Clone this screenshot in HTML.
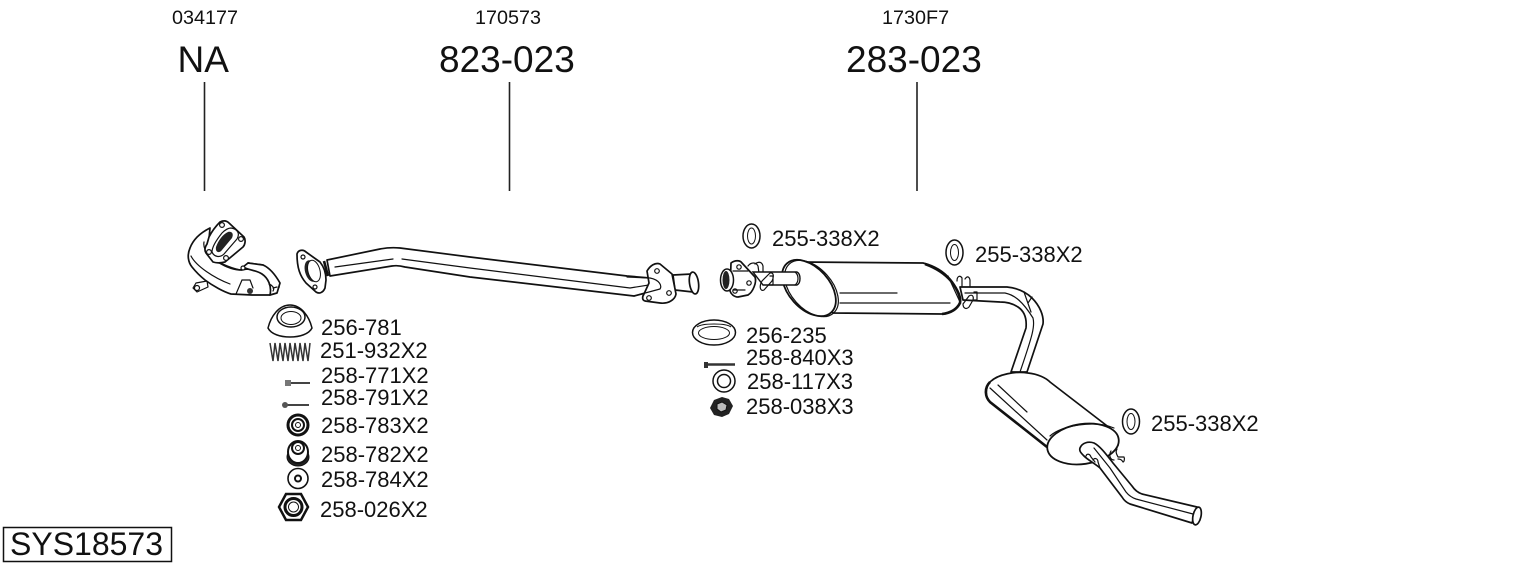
<!DOCTYPE html>
<html><head><meta charset="utf-8"><style>
html,body{margin:0;padding:0;background:#fff;width:1530px;height:566px;overflow:hidden}
svg{display:block}
text{font-family:"Liberation Sans",sans-serif;fill:#111}
.s{font-size:19.800px}.b{font-size:37px}.m{font-size:22px}
.l{fill:none;stroke:#111;stroke-width:1.200;stroke-linejoin:round;stroke-linecap:round}
.h{fill:#fff;stroke:#111;stroke-width:1.700;stroke-linejoin:round}
.t{fill:#fff;stroke:#111;stroke-width:1.200;stroke-linejoin:round}
.k{fill:none;stroke:#111;stroke-width:2.600}
</style></head><body>
<svg width="1530" height="566" viewBox="0 0 1530 566" xmlns="http://www.w3.org/2000/svg">
<text class="s" x="172" y="24">034177</text>
<text class="s" x="475" y="24">170573</text>
<text class="s" x="882" y="24">1730F7</text>
<text class="b" x="177.500" y="72">NA</text>
<text class="b" x="439" y="72">823-023</text>
<text class="b" x="846" y="72">283-023</text>
<path d="M204.500 82V191M509.500 82V191M917 82V191" stroke="#222" stroke-width="1.600" fill="none"/>

<!-- manifold -->
<g>
<path class="t" d="M207 281L196 283L193 288L197 292L208 287Z"/>
<circle cx="197" cy="288" r="2.500" class="t"/>
<path class="h" d="M210 228C200 233 193 240 190 248C187 255 188 262 192 267C196 272 200 276 205 280C213 286 224 292 231 294L252 295L270 295L279 287L270 270L263 265L248 263L242 270C234 270 226 267 218 262L208 250Z"/>
<path class="l" d="M191 256C196 266 214 278 230 284M204 242C202 252 216 264 240 270M242 270C254 268 262 270 267 278M242 280L236 294M242 280H250L253 288"/>
<path class="h" d="M243 267L248 263L263 265C270 268 276 276 280 283L277 293L270 295C272 286 268 278 262 274C256 270 248 270 243 267Z"/>
<path class="h" d="M220 222C224 220 227 221 229 223L244 237C246 240 245 245 243 247L225 262C221 263 216 263 213 262L206 253C204 250 205 247 207 244L209 237C212 231 216 226 220 222Z"/>
<path d="M228 232C232 231 234 234 232 238L222 250C219 254 215 252 216 247C218 241 223 234 228 232Z" fill="#222"/>
<path class="l" d="M231 228C238 229 240 234 237 239L224 254C220 258 214 257 212 252C212 246 218 238 222 233C225 230 228 228 231 228Z"/>
<circle cx="222" cy="225" r="2.400" class="t"/><circle cx="241" cy="239" r="2.400" class="t"/><circle cx="226" cy="258" r="2.400" class="t"/><circle cx="209" cy="252" r="2.400" class="t"/>
<circle cx="250" cy="291" r="3" fill="#333"/><circle cx="243" cy="268" r="2" class="t"/>
<path class="l" d="M269 284c3 1 6 4 4 7M273 288l4-1"/>
</g>

<!-- pipe 823-023 -->
<path class="h" d="M327 260L380 249Q390 247 400 248L470 257L627 276L650 278L664 288L634 296L470 277L405 267Q398 265 392 266L330 276Z"/>
<path class="l" d="M335 267L393 259M402 259L470 268L630 288L655 284"/>
<path class="h" d="M297 254C298 250 303 249 306 252L320 262C324 267 326 274 326 280L325 288C323 293 319 294 316 292L306 283C300 276 297 268 297 254Z"/>
<ellipse cx="311" cy="271" rx="6" ry="11" transform="rotate(-15 311 271)" fill="#222"/>
<ellipse cx="314" cy="271" rx="6" ry="11" transform="rotate(-15 314 271)" fill="#fff" stroke="#111"/>
<circle cx="303" cy="257" r="2" class="t"/><circle cx="315" cy="287" r="2" class="t"/>
<path class="k" d="M324 261L328 276" />
<path class="h" d="M673 275L692 274L693 292L675 290Z"/>
<path class="h" d="M647 271C650 266 655 262 660 264L672 274L676 294C675 300 668 304 660 303L645 301C642 300 642 297 644 294L649 283Z"/>
<circle cx="657" cy="271" r="2.300" class="t"/><circle cx="669" cy="293" r="2.300" class="t"/><circle cx="649" cy="298" r="2.300" class="t"/>
<path class="l" d="M627 277L650 278C660 280 662 286 660 289L634 296"/>
<ellipse cx="694" cy="283" rx="4.500" ry="11" class="h" transform="rotate(-8 694 283)"/>

<!-- muffler 1 -->
<path class="l" d="M748 266c3-4 8-4 10 0l1 7M755 264c4-3 7-2 8 2v6"/>

<path class="h" d="M960 287H1007C1017 288 1026 292 1032 298C1040 306 1044 316 1043 324L1027 372L1011 372L1026 328C1027 318 1024 311 1018 307C1012 303 1006 302 1000 302L963 300Z"/>
<path class="l" d="M965 293H1005C1015 295 1023 302 1033 318C1035 326 1033 334 1020 372M1024 292L1031 312M1032 297L1028 303"/>
<path class="l" d="M957 281c0-5 3-6 5-3v8M965 279c2-3 4-3 5 1v7"/>
<path class="l" d="M963 304l6-8c3-2 5 0 4 4l-4 7c-3 3-6 1-6-3zM974 292h3v8h-3"/>

<path class="h" d="M800 262L923 263C935 266 944 272 950 279C957 287 960 296 960 302C958 308 952 312 942 314L833 313Z"/>
<path class="l" d="M840 293H897M840 303H950M948 276L960 302"/>
<path class="k" d="M925 264C936 268 945 274 951 281C958 290 961 298 960 303C957 309 951 313 942 314"/>
<ellipse cx="809" cy="288" rx="20.500" ry="33" transform="rotate(-42 809 288)" fill="#fff" stroke="#111" stroke-width="1.800"/>
<ellipse cx="811.500" cy="288.500" rx="20.500" ry="33" transform="rotate(-42 811.500 288.500)" fill="none" stroke="#111" stroke-width="1.200"/>
<path d="M753 272H797C801 274 801 283 797 285H763Z" fill="#fff" stroke="#111" stroke-width="1.400"/>
<path class="l" d="M795 272c4 3 4 10 0 13"/>
<path class="l" d="M762 281l8-8c4-1 4 4 2 8l-8 9c-4 2-5-4-2-9zM770 276h3v9h-3"/>
<path class="h" d="M731 263C735 260 740 260 742 263L755 277C757 282 753 292 748 295L738 297C734 297 731 294 730 291Z"/>
<circle cx="739" cy="267" r="2.200" class="t"/><circle cx="749" cy="283" r="2.200" class="t"/><circle cx="735" cy="291" r="2.200" class="t"/>
<ellipse cx="727" cy="280" rx="6.500" ry="11" fill="#fff" stroke="#111" stroke-width="1.500"/>
<ellipse cx="726" cy="280" rx="3.500" ry="9" fill="#222"/>
<path class="l" d="M733 271H748M733 290H745"/>

<!-- muffler 2 -->
<path class="h" d="M990 382C998 374 1016 371 1028 373C1038 374 1046 378 1050 382L1115 432L1118 445L1048 448L990 402C985 398 985 388 990 382Z"/>
<path class="l" d="M990 388L1047 440M998 385L1027 412"/>
<path class="k" d="M990 382C984 388 985 397 990 402L1047 447"/>
<ellipse cx="1083" cy="444" rx="36" ry="20" transform="rotate(-8 1083 444)" fill="#fff" stroke="#111" stroke-width="1.800"/>
<path class="l" d="M1050 436C1062 425 1095 420 1114 428"/>
<path class="l" d="M1111 451c-3 5 0 9 3 9M1117 449c-2 3 0 6 1 8h6c1 2 0 5-1 5-1-2-3-3-5-3"/>
<path class="h" d="M1080 448C1082 443 1088 441 1094 443C1100 446 1106 454 1113 463L1132 486Q1136 492 1142 494L1197 507L1192 523L1130 504Q1125 502 1122 497L1100 468C1094 463 1088 460 1084 456C1081 453 1079 451 1080 448Z"/>
<path class="l" d="M1094 448L1110 468L1126 492Q1130 497 1136 499L1193 514"/>
<path class="l" d="M1086 456c1-3 4-2 5 1l4 5M1093 460c2-3 5-1 5 2l2 6"/>
<ellipse cx="1197" cy="516" rx="4" ry="9" class="h" transform="rotate(12 1197 516)"/>

<!-- rings 255-338 -->
<g fill="#fff" stroke="#111">
<ellipse cx="751.500" cy="236" rx="8.500" ry="12" stroke-width="1.500"/><ellipse cx="751.500" cy="236" rx="4" ry="8"/>
<ellipse cx="954.500" cy="252.500" rx="8.500" ry="12.500" stroke-width="1.500"/><ellipse cx="954.500" cy="252.500" rx="4" ry="8"/>
<ellipse cx="1131" cy="421.500" rx="8.500" ry="12.500" stroke-width="1.500"/><ellipse cx="1131" cy="421.500" rx="4" ry="8"/>
</g>

<!-- left hardware -->
<g fill="#fff" stroke="#111">
<path d="M268 328C271 316 279 305 290 305C301 305 309 316 312 328C309 334 300 337 290 337C280 337 271 334 268 328Z" stroke-width="1.500"/>
<ellipse cx="291" cy="317" rx="14" ry="10" stroke-width="1.500"/><ellipse cx="291" cy="318" rx="10" ry="6.500"/>
</g>
<path d="M270 343L273 361L275 343L278 361L280 343L283 361L285 343L288 361L290 343L293 361L295 343L298 361L300 343L303 361L305 343L308 361L310 343" fill="none" stroke="#333" stroke-width="1.500"/>
<path d="M289 383H310" stroke="#444" stroke-width="2"/><rect x="285" y="380" width="6" height="6" fill="#777"/>
<path d="M287 405H309" stroke="#444" stroke-width="2"/><circle cx="285" cy="405" r="3" fill="#555"/>
<g fill="#fff" stroke="#111">
<circle cx="298" cy="425" r="10" stroke-width="3"/><circle cx="298" cy="425" r="6" stroke-width="2"/><circle cx="298" cy="425" r="2.500"/>
<ellipse cx="298" cy="457" rx="11" ry="9" fill="#222"/>
<ellipse cx="298" cy="452" rx="10" ry="11" stroke-width="2"/><circle cx="298" cy="448" r="6" stroke-width="2"/><circle cx="298" cy="448" r="2.500"/>
<circle cx="298" cy="478.500" r="10" stroke-width="1.600"/><circle cx="298" cy="478.500" r="3" stroke-width="2"/>
<path d="M286 494H301L308 507L301 520H286L279 507Z" stroke-width="2.500"/><circle cx="293.500" cy="507" r="8.500" stroke-width="3"/><circle cx="293.500" cy="507" r="5" stroke-width="1"/>
</g>
<g class="m">
<text class="m" x="321" y="335">256-781</text>
<text class="m" x="320" y="358">251-932X2</text>
<text class="m" x="321" y="383">258-771X2</text>
<text class="m" x="321" y="405">258-791X2</text>
<text class="m" x="321" y="433">258-783X2</text>
<text class="m" x="321" y="462">258-782X2</text>
<text class="m" x="321" y="487">258-784X2</text>
<text class="m" x="320" y="517">258-026X2</text>
</g>

<!-- middle hardware -->
<g fill="#fff" stroke="#111">
<ellipse cx="714" cy="332.500" rx="21.500" ry="12.500" stroke-width="1.500"/>
<ellipse cx="714" cy="333" rx="15.500" ry="6.500"/>
<path d="M697 327C702 323 726 323 731 327" fill="none"/>
<circle cx="724" cy="381" r="11" stroke-width="1.500"/><circle cx="724" cy="381" r="6.500" stroke-width="1.500"/>
</g>
<path d="M706 364.500H735" stroke="#333" stroke-width="2.500"/><rect x="704" y="362" width="4" height="6" fill="#333"/>
<path d="M722 397L729 399L733 406L729 414L722 417L714 415L710 408L714 400Z" fill="#222"/>
<path d="M722 402L727 405L726 410L721 412L717 409L717 404Z" fill="#bbb" stroke="#111"/>
<text class="m" x="746" y="343">256-235</text>
<text class="m" x="746" y="365">258-840X3</text>
<text class="m" x="747" y="389">258-117X3</text>
<text class="m" x="746" y="414">258-038X3</text>
<text class="m" x="772" y="246">255-338X2</text>
<text class="m" x="975" y="262">255-338X2</text>
<text class="m" x="1151" y="431">255-338X2</text>

<rect x="3.500" y="527.500" width="168" height="34" fill="#fff" stroke="#111" stroke-width="1.500"/>
<text x="10" y="555" style="font-size:32px">SYS18573</text>
</svg>
</body></html>
